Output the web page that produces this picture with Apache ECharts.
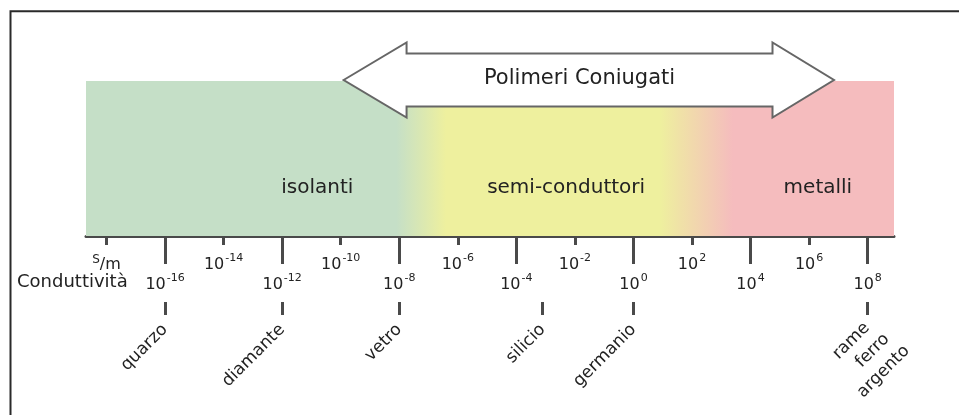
<!DOCTYPE html>
<html><head><meta charset="utf-8">
<script src="https://cdn.jsdelivr.net/npm/echarts@6/dist/echarts.min.js"></script>
<style>html,body{margin:0;padding:0;background:#fff}#c{width:959px;height:415px}</style>
</head><body><div id="c"></div>
<script>
// All x values are log10 of the conductivity in S/m
const axisRange = [-18.7, 8.9];
const majorExponents = [-16, -12, -8, -4, 0, 4, 8];
const minorExponents = [-18, -14, -10, -6, -2, 2, 6];
const unitLabel = ['S', '/m'];
const axisTitle = 'Conduttività';
const materialNames = ['quarzo', 'diamante', 'vetro', 'silicio', 'germanio'];
const materialValues = [-16, -12, -8, -3.1, 0];
const metalNames = ['rame', 'ferro', 'argento'];
const metalValues = [8];
const regionNames = ['isolanti', 'semi-conduttori', 'metalli'];
const regionCenters = [-10.8, -2.3, 6.3];
const regionColors = ['#c5dfc7', '#eef09e', '#f5bcbe'];
// colour transitions: end of solid green, start of solid yellow, end of solid yellow, start of solid pink
const transitions = [-8.1, -6.4, 0.9, 3.4];
const polymerName = 'Polimeri Coniugati';
const polymerTips = [-9.9, 6.85];
const polymerShaft = [-7.75, 4.75];

const FAM = 'DejaVu Sans';
const INK = '#222';
const LINE = '#4a4a4a';
const BAND_TOP = 155;      // y-axis units (grid is 200 px high, 0..200)
const REGION_LABEL_Y = 48;
const ARROW_Y = 156;

const rich = {
  b: {fontSize: 16, lineHeight: 15, padding: [5, 0, 0, 0], color: INK, fontFamily: FAM},
  s: {fontSize: 11, lineHeight: 11, padding: [0, 0, 9, 1], color: INK, fontFamily: FAM},
  u: {fontSize: 12, lineHeight: 12, padding: [1, 0, 7, 0], color: INK, fontFamily: FAM}
};
function expLabel(v) {
  if (v === minorExponents[0]) return '{u|' + unitLabel[0] + '}{b|' + unitLabel[1] + '}';
  return '{b|10}{s|' + v + '}';
}

const chart = echarts.init(document.getElementById('c'), null, {renderer: 'canvas'});
const baseX = {type: 'value', min: axisRange[0], max: axisRange[1], position: 'bottom', splitLine: {show: false}};

chart.setOption({
  animation: false,
  backgroundColor: '#fff',
  grid: {left: 86, right: 65, top: 36, bottom: 179, containLabel: false},
  yAxis: {type: 'value', min: 0, max: 200, show: false},
  xAxis: [
    Object.assign({}, baseX, {
      axisLine: {show: true, onZero: false, lineStyle: {color: LINE, width: 3}},
      axisTick: {show: true, customValues: majorExponents, length: 28, lineStyle: {color: LINE, width: 3}},
      axisLabel: {show: true, customValues: majorExponents, margin: 39, formatter: expLabel, rich: rich}
    }),
    Object.assign({}, baseX, {
      axisLine: {show: false, onZero: false},
      axisTick: {show: true, customValues: minorExponents, length: 9, lineStyle: {color: LINE, width: 3}},
      axisLabel: {show: true, customValues: minorExponents, margin: 19, formatter: expLabel, rich: rich}
    }),
    Object.assign({}, baseX, {
      offset: 66,
      axisLine: {show: false, onZero: false},
      axisTick: {show: true, customValues: materialValues, length: 13, lineStyle: {color: LINE, width: 3}},
      axisLabel: {show: true, customValues: materialValues, rotate: 45, margin: 25,
        fontSize: 17, fontFamily: FAM, color: INK,
        formatter: v => materialNames[materialValues.indexOf(v)]}
    }),
    Object.assign({}, baseX, {
      offset: 66,
      axisLine: {show: false, onZero: false},
      axisTick: {show: true, customValues: metalValues, length: 13, lineStyle: {color: LINE, width: 3}},
      axisLabel: {show: true, customValues: metalValues, rotate: 45, margin: 7, verticalAlign: 'top',
        formatter: () => '{a|' + metalNames[0] + '}\n{c|' + metalNames[1] + '}\n{d|' + metalNames[2] + '}',
        rich: {
          a: {fontSize: 17, lineHeight: 22, fontFamily: FAM, color: INK, padding: [0, 12, 0, 0]},
          c: {fontSize: 17, lineHeight: 22, fontFamily: FAM, color: INK, padding: [0, 6, 0, 0]},
          d: {fontSize: 17, lineHeight: 23, fontFamily: FAM, color: INK}
        }}
    })
  ],
  graphic: [
    {type: 'rect', shape: {x: 10.5, y: 11.3, width: 1200, height: 1200}, style: {fill: null, stroke: '#2a2a2a', lineWidth: 2}, silent: true},
    {type: 'text', left: 17, top: 273, style: {text: axisTitle, fontSize: 18, fontFamily: FAM, fill: INK}}
  ],
  series: [
    {
      type: 'custom', xAxisIndex: 0, yAxisIndex: 0, z: 1,
      data: [[axisRange[0], axisRange[1]]],
      renderItem: function (params, api) {
        const x0 = api.value(0), x1 = api.value(1);
        const p0 = api.coord([x0, BAND_TOP]), p1 = api.coord([x1, 0]);
        const f = v => (v - x0) / (x1 - x0);
        return {
          type: 'rect',
          shape: {x: p0[0], y: p0[1], width: p1[0] - p0[0], height: p1[1] - p0[1]},
          style: {fill: new echarts.graphic.LinearGradient(0, 0, 1, 0, [
            {offset: 0, color: regionColors[0]},
            {offset: f(transitions[0]), color: regionColors[0]},
            {offset: f(transitions[1]), color: regionColors[1]},
            {offset: f(transitions[2]), color: regionColors[1]},
            {offset: f(transitions[3]), color: regionColors[2]},
            {offset: 1, color: regionColors[2]}
          ])}
        };
      }
    },
    {
      type: 'custom', xAxisIndex: 0, yAxisIndex: 0, z: 3,
      data: regionCenters.map(c => [c, REGION_LABEL_Y]),
      renderItem: function (params, api) {
        const p = api.coord([api.value(0), api.value(1)]);
        return {type: 'text', x: p[0], y: p[1],
          style: {text: regionNames[params.dataIndex], fontSize: 20, fontFamily: FAM, fill: INK, align: 'center', verticalAlign: 'middle'}};
      }
    },
    {
      type: 'custom', xAxisIndex: 0, yAxisIndex: 0, z: 4,
      data: [[polymerTips[0], polymerShaft[0], polymerShaft[1], polymerTips[1]]],
      renderItem: function (params, api) {
        const t0 = api.coord([api.value(0), ARROW_Y]);
        const s0 = api.coord([api.value(1), ARROW_Y]);
        const s1 = api.coord([api.value(2), ARROW_Y]);
        const t1 = api.coord([api.value(3), ARROW_Y]);
        const cy = t0[1];
        const hb = 26.5, hh = 37.5;
        const pts = [
          [t0[0], cy], [s0[0], cy - hh], [s0[0], cy - hb], [s1[0], cy - hb], [s1[0], cy - hh],
          [t1[0], cy], [s1[0], cy + hh], [s1[0], cy + hb], [s0[0], cy + hb], [s0[0], cy + hh]
        ];
        return {type: 'group', children: [
          {type: 'polygon', shape: {points: pts}, style: {fill: '#fff', stroke: '#666', lineWidth: 2}},
          {type: 'text', x: (s0[0] + s1[0]) / 2 - 10, y: cy - 1,
            style: {text: polymerName, fontSize: 21, fontFamily: FAM, fill: INK, align: 'center', verticalAlign: 'middle'}}
        ]};
      }
    }
  ]
});
</script></body></html>
